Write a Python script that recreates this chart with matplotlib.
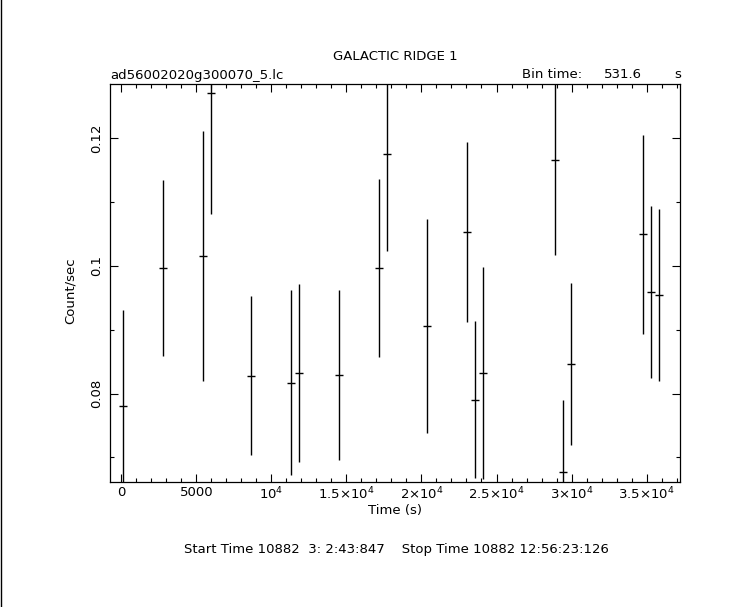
import matplotlib
matplotlib.use("Agg")
import matplotlib.pyplot as plt
from matplotlib.lines import Line2D
from matplotlib.ticker import FixedLocator, MultipleLocator

# light curve values
time_s = [107, 2773, 5440, 5973, 8667, 11307, 11840, 14507, 17173, 17707,
          20373, 23040, 23573, 24107, 28907, 29440, 29973, 34773, 35307, 35840]
rate = [0.0781, 0.0997, 0.1016, 0.1271, 0.0828, 0.0817, 0.0832, 0.0829, 0.0997, 0.1176,
        0.0906, 0.1053, 0.0790, 0.0832, 0.1166, 0.0677, 0.0846, 0.1050, 0.0959, 0.0955]
rate_err = [0.0150, 0.0138, 0.0196, 0.0190, 0.0125, 0.0145, 0.0139, 0.0133, 0.0140, 0.0153,
            0.0168, 0.0141, 0.0123, 0.0166, 0.0149, 0.0113, 0.0127, 0.0156, 0.0135, 0.0135]
bin_time = 531.6

xtick_vals = [0, 5000, 10000, 15000, 20000, 25000, 30000, 35000]
xtick_labels = ["0", "5000", r"$10^4$", r"$1.5{\times}10^4$", r"$2{\times}10^4$",
                r"$2.5{\times}10^4$", r"$3{\times}10^4$", r"$3.5{\times}10^4$"]
ytick_vals = [0.08, 0.1, 0.12]
ytick_labels = ["0.08", "0.1", "0.12"]

W, H = 743, 607
fig = plt.figure(figsize=(W / 100, H / 100), dpi=100)
fig.patch.set_facecolor("white")

# axes box in pixels: left 110, right 680, top 84, bottom 482
ax = fig.add_axes([110 / W, 1 - 482 / H, (680 - 110) / W, (482 - 84) / H])
ax.errorbar(time_s, rate, yerr=rate_err, xerr=bin_time / 2, fmt="none",
            ecolor="black", elinewidth=1.0, capsize=0)

ax.set_xlim(-760, 37230)
ax.set_ylim(0.06614, 0.12853)

ax.xaxis.set_major_locator(FixedLocator(xtick_vals))
ax.set_xticklabels(xtick_labels)
ax.xaxis.set_minor_locator(MultipleLocator(1000))
ax.yaxis.set_major_locator(FixedLocator(ytick_vals))
ax.set_yticklabels(ytick_labels, rotation=90, va="center")
ax.yaxis.set_minor_locator(MultipleLocator(0.01))

ax.tick_params(which="both", direction="in", top=True, right=True,
               width=0.8, labelsize=9.5, colors="black")
ax.tick_params(axis="x", which="major", length=5.5, pad=3)
ax.tick_params(axis="y", which="major", length=5.5, pad=5)
ax.tick_params(which="minor", length=3)
for sp in ax.spines.values():
    sp.set_linewidth(0.9)

ax.set_xlabel("Time (s)", fontsize=9.5, labelpad=1)
ax.set_ylabel("Count/sec", fontsize=9.5)
ax.yaxis.set_label_coords(-0.058, 0.48)

fig.text(395 / W, 1 - 57 / H, "GALACTIC RIDGE 1", ha="center", va="center", fontsize=9.5)
fig.text(110 / W, 1 - 75 / H, "ad56002020g300070_5.lc", ha="left", va="center", fontsize=9.5)
fig.text(522 / W, 1 - 75 / H, "Bin time:", ha="left", va="center", fontsize=9.5)
fig.text(642 / W, 1 - 75 / H, "531.6", ha="right", va="center", fontsize=9.5)
fig.text(681 / W, 1 - 75 / H, "s", ha="right", va="center", fontsize=9.5)
fig.text(396 / W, 1 - 549 / H, "Start Time 10882  3: 2:43:847    Stop Time 10882 12:56:23:126",
         ha="center", va="center", fontsize=9.5)

# left frame edge
fig.add_artist(Line2D([0.5 / W, 0.5 / W], [0, 1], color="black", lw=1.0))

fig.savefig("out.png", dpi=100, facecolor="white")
